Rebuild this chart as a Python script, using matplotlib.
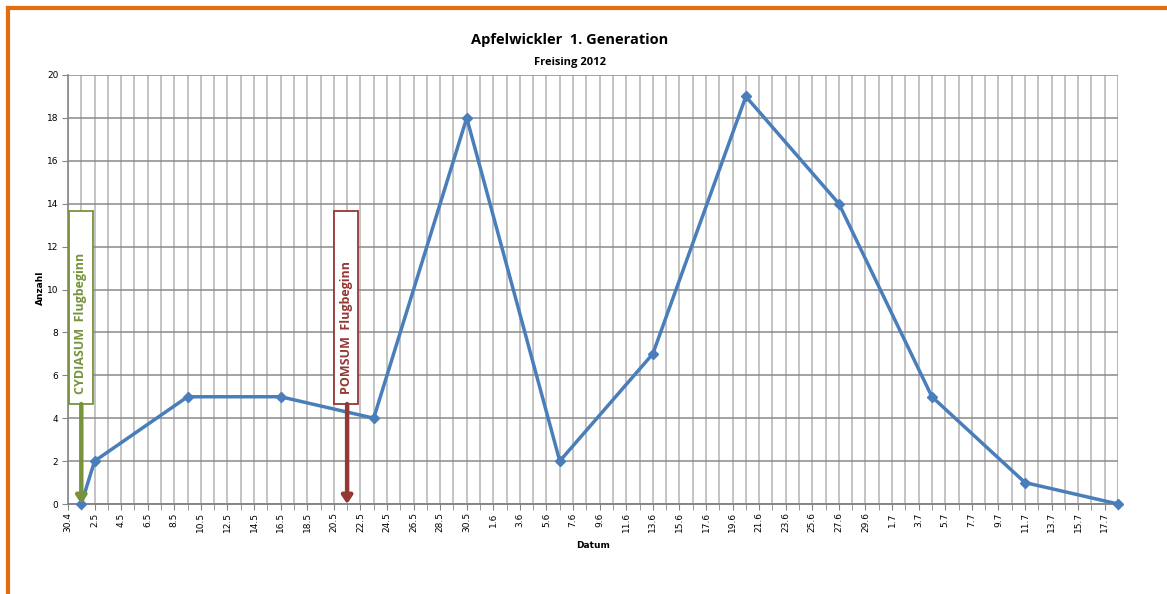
import datetime as dt
import matplotlib
matplotlib.use("Agg")
import matplotlib.pyplot as plt
import matplotlib.dates as mdates
from matplotlib.ticker import FuncFormatter, MultipleLocator
from matplotlib.patches import Rectangle
from matplotlib.lines import Line2D

# ---- data ----
dates = ["2012-05-01", "2012-05-02", "2012-05-09", "2012-05-16", "2012-05-23",
         "2012-05-30", "2012-06-06", "2012-06-13", "2012-06-20", "2012-06-27",
         "2012-07-04", "2012-07-11", "2012-07-18"]
counts = [0, 2, 5, 5, 4, 18, 2, 7, 19, 14, 5, 1, 0]
x_start = "2012-04-30"
x_end = "2012-07-18"
annot_labels = ["CYDIASUM  Flugbeginn", "POMSUM  Flugbeginn"]
annot_dates = ["2012-05-01", "2012-05-21"]
annot_colors = ["#77933c", "#953735"]

title = "Apfelwickler  1. Generation"
subtitle = "Freising 2012"
xlabel = "Datum"
ylabel = "Anzahl"

plt.rcParams['font.family'] = ['DejaVu Sans']

d = [dt.datetime.strptime(s, "%Y-%m-%d") for s in dates]
x0 = dt.datetime.strptime(x_start, "%Y-%m-%d")
x1 = dt.datetime.strptime(x_end, "%Y-%m-%d")

fig = plt.figure(figsize=(11.67, 5.94), dpi=100)
ax = fig.add_axes([68/1167, 1-504/594, (1118-68)/1167, (504-75)/594])

ax.set_xlim(mdates.date2num(x0), mdates.date2num(x1))
ax.set_ylim(0, 20)

ticks = [mdates.date2num(x0 + dt.timedelta(days=k)) for k in range(0, (x1 - x0).days + 1, 2)]
ax.set_xticks(ticks)
ax.xaxis.set_minor_locator(mdates.DayLocator())
ax.xaxis.set_major_formatter(FuncFormatter(
    lambda v, p: "%d.%d" % (mdates.num2date(v).day, mdates.num2date(v).month)))
ax.yaxis.set_major_locator(MultipleLocator(2))

ax.grid(True, which='minor', axis='x', color='#b3b3b3', linewidth=1.1)
ax.grid(True, which='major', axis='x', color='#b3b3b3', linewidth=1.1)
ax.grid(True, which='major', axis='y', color='#8a8a8a', linewidth=1.1)
ax.axvline(mdates.date2num(x1), color='#b3b3b3', linewidth=1.1, zorder=0)
ax.set_axisbelow(True)

for s in ['top', 'right']:
    ax.spines[s].set_visible(False)
ax.spines['left'].set_color('#868686')
ax.spines['bottom'].set_color('#868686')
ax.spines['left'].set_linewidth(1.2)
ax.spines['bottom'].set_linewidth(1.4)

ax.tick_params(axis='x', which='both', rotation=90, labelsize=6.5, length=4,
               color='#868686', pad=2)
ax.tick_params(axis='x', which='minor', length=4)
ax.tick_params(axis='y', labelsize=6.5, length=4, color='#868686', pad=3)

ax.plot(mdates.date2num(d), counts, color='#4a7ebb', linewidth=2.5,
        marker='D', markersize=5, markerfacecolor='#4a7ebb',
        markeredgecolor='#4a7ebb', zorder=5, clip_on=False)

# annotations
box_w = 1.8
for lab, ds, col in zip(annot_labels, annot_dates, annot_colors):
    xd = mdates.date2num(dt.datetime.strptime(ds, "%Y-%m-%d"))
    bx = xd - 0.95
    rect = Rectangle((bx, 4.66), box_w, 9.0, facecolor='white', edgecolor=col,
                     linewidth=1.3, zorder=6)
    ax.add_patch(rect)
    ax.text(bx + box_w / 2, 5.15, lab, rotation=90, ha='center', va='bottom',
            color=col, fontsize=9, fontweight='bold', family='Open Sans', zorder=7)
    ax.annotate("", xy=(xd, 0.0), xytext=(xd, 4.66),
                arrowprops=dict(arrowstyle='-|>,head_width=0.3,head_length=0.45',
                                color=col, linewidth=3.2, shrinkA=0, shrinkB=0),
                zorder=8)

fig.text(570/1167, 1-40/594, title, ha='center', va='center', fontsize=10.5,
         fontweight='bold', family='Open Sans')
fig.text(570/1167, 1-62/594, subtitle, ha='center', va='center', fontsize=8,
         fontweight='bold', family='Open Sans')
fig.text(593/1167, 1-546/594, xlabel, ha='center', va='center', fontsize=6.5,
         fontweight='bold')
fig.text(40/1167, 1-288/594, ylabel, ha='center', va='center', fontsize=6.5,
         fontweight='bold', rotation=90)

# orange frame (top and left edges)
fig.add_artist(Line2D([8/1167, 8/1167], [0, 1-8/594], color='#e46c0a',
                      linewidth=3, transform=fig.transFigure))
fig.add_artist(Line2D([8/1167, 1], [1-8/594, 1-8/594], color='#e46c0a',
                      linewidth=3, transform=fig.transFigure))

fig.savefig("out.png", dpi=100)
